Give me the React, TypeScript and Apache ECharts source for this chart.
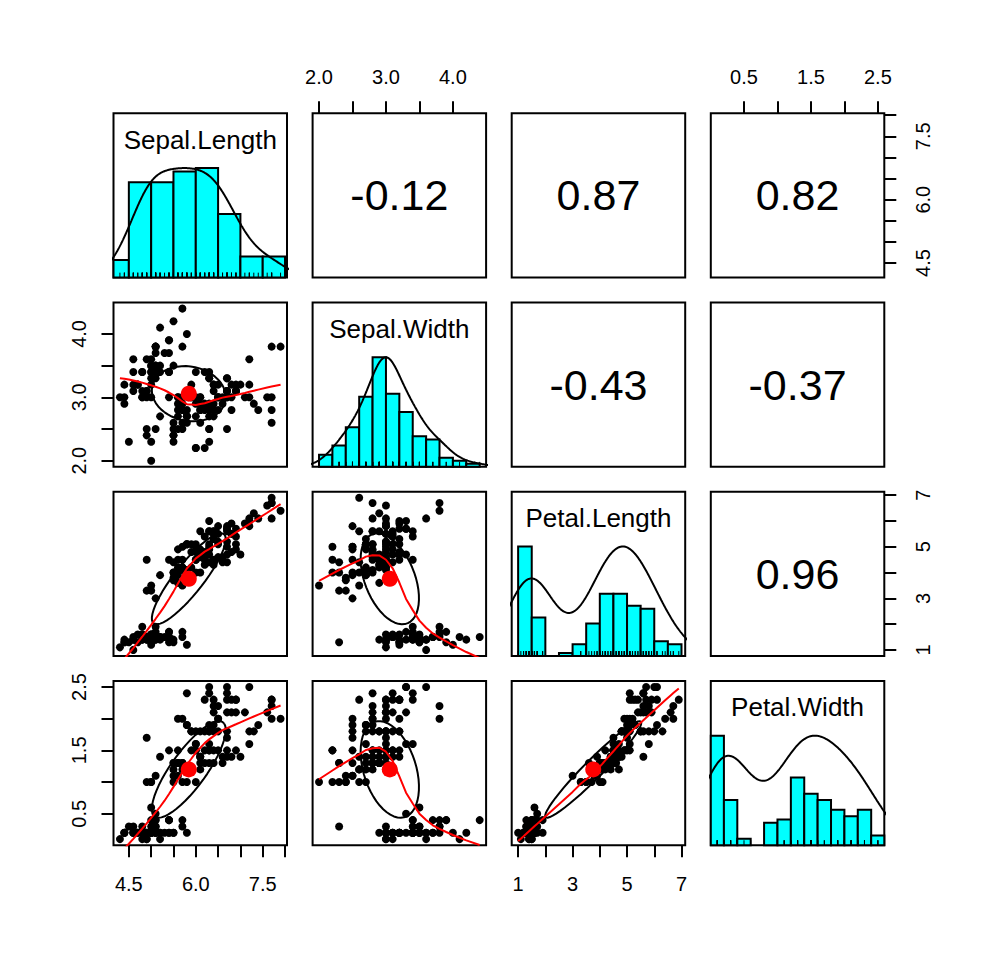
import React, { useEffect, useRef } from "react";
import * as echarts from "echarts";

// ---------------- data (iris) ----------------
const varNames = ["Sepal.Length", "Sepal.Width", "Petal.Length", "Petal.Width"];

const sepalLength = [
  5.1, 4.9, 4.7, 4.6, 5.0, 5.4, 4.6, 5.0, 4.4, 4.9, 5.4, 4.8, 4.8, 4.3, 5.8, 5.7, 5.4, 5.1, 5.7, 5.1, 5.4, 5.1, 4.6, 5.1, 4.8,
  5.0, 5.0, 5.2, 5.2, 4.7, 4.8, 5.4, 5.2, 5.5, 4.9, 5.0, 5.5, 4.9, 4.4, 5.1, 5.0, 4.5, 4.4, 5.0, 5.1, 4.8, 5.1, 4.6, 5.3, 5.0,
  7.0, 6.4, 6.9, 5.5, 6.5, 5.7, 6.3, 4.9, 6.6, 5.2, 5.0, 5.9, 6.0, 6.1, 5.6, 6.7, 5.6, 5.8, 6.2, 5.6, 5.9, 6.1, 6.3, 6.1, 6.4,
  6.6, 6.8, 6.7, 6.0, 5.7, 5.5, 5.5, 5.8, 6.0, 5.4, 6.0, 6.7, 6.3, 5.6, 5.5, 5.5, 6.1, 5.8, 5.0, 5.6, 5.7, 5.7, 6.2, 5.1, 5.7,
  6.3, 5.8, 7.1, 6.3, 6.5, 7.6, 4.9, 7.3, 6.7, 7.2, 6.5, 6.4, 6.8, 5.7, 5.8, 6.4, 6.5, 7.7, 7.7, 6.0, 6.9, 5.6, 7.7, 6.3, 6.7,
  7.2, 6.2, 6.1, 6.4, 7.2, 7.4, 7.9, 6.4, 6.3, 6.1, 7.7, 6.3, 6.4, 6.0, 6.9, 6.7, 6.9, 5.8, 6.8, 6.7, 6.7, 6.3, 6.5, 6.2, 5.9,
];
const sepalWidth = [
  3.5, 3.0, 3.2, 3.1, 3.6, 3.9, 3.4, 3.4, 2.9, 3.1, 3.7, 3.4, 3.0, 3.0, 4.0, 4.4, 3.9, 3.5, 3.8, 3.8, 3.4, 3.7, 3.6, 3.3, 3.4,
  3.0, 3.4, 3.5, 3.4, 3.2, 3.1, 3.4, 4.1, 4.2, 3.1, 3.2, 3.5, 3.6, 3.0, 3.4, 3.5, 2.3, 3.2, 3.5, 3.8, 3.0, 3.8, 3.2, 3.7, 3.3,
  3.2, 3.2, 3.1, 2.3, 2.8, 2.8, 3.3, 2.4, 2.9, 2.7, 2.0, 3.0, 2.2, 2.9, 2.9, 3.1, 3.0, 2.7, 2.2, 2.5, 3.2, 2.8, 2.5, 2.8, 2.9,
  3.0, 2.8, 3.0, 2.9, 2.6, 2.4, 2.4, 2.7, 2.7, 3.0, 3.4, 3.1, 2.3, 3.0, 2.5, 2.6, 3.0, 2.6, 2.3, 2.7, 3.0, 2.9, 2.9, 2.5, 2.8,
  3.3, 2.7, 3.0, 2.9, 3.0, 3.0, 2.5, 2.9, 2.5, 3.6, 3.2, 2.7, 3.0, 2.5, 2.8, 3.2, 3.0, 3.8, 2.6, 2.2, 3.2, 2.8, 2.8, 2.7, 3.3,
  3.2, 2.8, 3.0, 2.8, 3.0, 2.8, 3.8, 2.8, 2.8, 2.6, 3.0, 3.4, 3.1, 3.0, 3.1, 3.1, 3.1, 2.7, 3.2, 3.3, 3.0, 2.5, 3.0, 3.4, 3.0,
];
const petalLength = [
  1.4, 1.4, 1.3, 1.5, 1.4, 1.7, 1.4, 1.5, 1.4, 1.5, 1.5, 1.6, 1.4, 1.1, 1.2, 1.5, 1.3, 1.4, 1.7, 1.5, 1.7, 1.5, 1.0, 1.7, 1.9,
  1.6, 1.6, 1.5, 1.4, 1.6, 1.6, 1.5, 1.5, 1.4, 1.5, 1.2, 1.3, 1.4, 1.3, 1.5, 1.3, 1.3, 1.3, 1.6, 1.9, 1.4, 1.6, 1.4, 1.5, 1.4,
  4.7, 4.5, 4.9, 4.0, 4.6, 4.5, 4.7, 3.3, 4.6, 3.9, 3.5, 4.2, 4.0, 4.7, 3.6, 4.4, 4.5, 4.1, 4.5, 3.9, 4.8, 4.0, 4.9, 4.7, 4.3,
  4.4, 4.8, 5.0, 4.5, 3.5, 3.8, 3.7, 3.9, 5.1, 4.5, 4.5, 4.7, 4.4, 4.1, 4.0, 4.4, 4.6, 4.0, 3.3, 4.2, 4.2, 4.2, 4.3, 3.0, 4.1,
  6.0, 5.1, 5.9, 5.6, 5.8, 6.6, 4.5, 6.3, 5.8, 6.1, 5.1, 5.3, 5.5, 5.0, 5.1, 5.3, 5.5, 6.7, 6.9, 5.0, 5.7, 4.9, 6.7, 4.9, 5.7,
  6.0, 4.8, 4.9, 5.6, 5.8, 6.1, 6.4, 5.6, 5.1, 5.6, 6.1, 5.6, 5.5, 4.8, 5.4, 5.6, 5.1, 5.1, 5.9, 5.7, 5.2, 5.0, 5.2, 5.4, 5.1,
];
const petalWidth = [
  0.2, 0.2, 0.2, 0.2, 0.2, 0.4, 0.3, 0.2, 0.2, 0.1, 0.2, 0.2, 0.1, 0.1, 0.2, 0.4, 0.4, 0.3, 0.3, 0.3, 0.2, 0.4, 0.2, 0.5, 0.2,
  0.2, 0.4, 0.2, 0.2, 0.2, 0.2, 0.4, 0.1, 0.2, 0.2, 0.2, 0.2, 0.1, 0.2, 0.2, 0.3, 0.3, 0.2, 0.6, 0.4, 0.3, 0.2, 0.2, 0.2, 0.2,
  1.4, 1.5, 1.5, 1.3, 1.5, 1.3, 1.6, 1.0, 1.3, 1.4, 1.0, 1.5, 1.0, 1.4, 1.3, 1.4, 1.5, 1.0, 1.5, 1.1, 1.8, 1.3, 1.5, 1.2, 1.3,
  1.4, 1.4, 1.7, 1.5, 1.0, 1.1, 1.0, 1.2, 1.6, 1.5, 1.6, 1.5, 1.3, 1.3, 1.3, 1.2, 1.4, 1.2, 1.0, 1.3, 1.2, 1.3, 1.3, 1.1, 1.3,
  2.5, 1.9, 2.1, 1.8, 2.2, 2.1, 1.7, 1.8, 1.8, 2.5, 2.0, 1.9, 2.1, 2.0, 2.4, 2.3, 1.8, 2.2, 2.3, 1.5, 2.3, 2.0, 2.0, 1.8, 2.1,
  1.8, 1.8, 1.8, 2.1, 1.6, 1.9, 2.0, 2.2, 1.5, 1.4, 2.3, 2.4, 1.8, 1.8, 2.1, 2.4, 2.3, 1.9, 2.3, 2.5, 2.3, 1.9, 2.0, 2.3, 1.8,
];

const histBreaks = [
  [4.0, 4.5, 5.0, 5.5, 6.0, 6.5, 7.0, 7.5, 8.0],
  [2.0, 2.2, 2.4, 2.6, 2.8, 3.0, 3.2, 3.4, 3.6, 3.8, 4.0, 4.2, 4.4],
  [1.0, 1.5, 2.0, 2.5, 3.0, 3.5, 4.0, 4.5, 5.0, 5.5, 6.0, 6.5, 7.0],
  [0.0, 0.2, 0.4, 0.6, 0.8, 1.0, 1.2, 1.4, 1.6, 1.8, 2.0, 2.2, 2.4, 2.6],
];
const tickValues = [
  [4.5, 5.0, 5.5, 6.0, 6.5, 7.0, 7.5, 8.0],
  [2.0, 2.5, 3.0, 3.5, 4.0],
  [1, 2, 3, 4, 5, 6, 7],
  [0.5, 1.0, 1.5, 2.0, 2.5],
];
const tickLabels = [
  [4.5, 6.0, 7.5],
  [2.0, 3.0, 4.0],
  [1, 3, 5, 7],
  [0.5, 1.5, 2.5],
];
const labelDigits = [1, 1, 0, 1];

const columns = [sepalLength, sepalWidth, petalLength, petalWidth];

// ---------------- layout / style ----------------
const FONT = "'Liberation Sans', Arial, Helvetica, sans-serif";
const colLeft = [113.5, 312.6, 511.7, 710.8];
const rowTop = [113.3, 302.5, 491.7, 680.9];
const PW = 173.5;
const PH = 164.3;
const HIST_COL = "#00FFFF";
const SMOOTH_COL = "#FF0000";

// ---------------- statistics helpers ----------------
const mean = (v: number[]) => v.reduce((a, b) => a + b, 0) / v.length;
const sd = (v: number[]) => {
  const m = mean(v);
  return Math.sqrt(v.reduce((a, b) => a + (b - m) * (b - m), 0) / (v.length - 1));
};
const cor = (x: number[], y: number[]) => {
  const mx = mean(x), my = mean(y);
  let sxy = 0, sxx = 0, syy = 0;
  for (let i = 0; i < x.length; i++) {
    sxy += (x[i] - mx) * (y[i] - my);
    sxx += (x[i] - mx) ** 2;
    syy += (y[i] - my) ** 2;
  }
  return sxy / Math.sqrt(sxx * syy);
};
const extRange = (v: number[]) => {
  const lo = Math.min(...v), hi = Math.max(...v);
  const d = (hi - lo) * 0.04;
  return [lo - d, hi + d];
};

function histCounts(v: number[], br: number[]) {
  const counts = new Array(br.length - 1).fill(0);
  const eps = 1e-7 * (br[1] - br[0]);
  v.forEach((x) => {
    for (let k = 0; k < br.length - 1; k++) {
      if (x <= br[k + 1] + eps) {
        counts[k]++;
        break;
      }
    }
  });
  return counts;
}

function densityCurve(v: number[]) {
  const n = v.length;
  const s = [...v].sort((a, b) => a - b);
  const q = (p: number) => {
    const h = (n - 1) * p;
    const lo = Math.floor(h);
    return s[lo] + (h - lo) * (s[Math.min(lo + 1, n - 1)] - s[lo]);
  };
  const bw = 1.06 * Math.min(sd(v), (q(0.75) - q(0.25)) / 1.34) * Math.pow(n, -0.2) * 1.2;
  const from = s[0] - 3 * bw, to = s[n - 1] + 3 * bw;
  const pts: number[][] = [];
  let mx = 0;
  for (let k = 0; k < 512; k++) {
    const x = from + (k * (to - from)) / 511;
    let d = 0;
    for (let i = 0; i < n; i++) {
      const z = (x - v[i]) / bw;
      d += Math.exp(-0.5 * z * z);
    }
    pts.push([x, d]);
    if (d > mx) mx = d;
  }
  return pts.map((p) => [p[0], p[1] / mx]);
}

function lowess(xIn: number[], yIn: number[], f = 2 / 3, nsteps = 3) {
  const n = xIn.length;
  const idx = xIn.map((_, i) => i).sort((a, b) => xIn[a] - xIn[b] || a - b);
  const x = [0, ...idx.map((i) => xIn[i])];
  const y = [0, ...idx.map((i) => yIn[i])];
  const delta = 0.01 * (x[n] - x[1]);
  const ys = new Array(n + 1).fill(0);
  const rw = new Array(n + 1).fill(1);
  const res = new Array(n + 1).fill(0);
  const w = new Array(n + 1).fill(0);
  const ns = Math.max(2, Math.min(n, Math.floor(f * n + 1e-7)));
  const range = x[n] - x[1];
  const lowest = (xs: number, nleft: number, nright: number, userw: boolean): number | null => {
    const h = Math.max(xs - x[nleft], x[nright] - xs);
    const h9 = 0.999 * h, h1 = 0.001 * h;
    let a = 0;
    let j = nleft;
    while (j <= n) {
      w[j] = 0;
      const r = Math.abs(x[j] - xs);
      if (r <= h9) {
        if (r <= h1) w[j] = 1;
        else {
          const qq = r / h;
          const t = 1 - qq * qq * qq;
          w[j] = t * t * t;
        }
        if (userw) w[j] *= rw[j];
        a += w[j];
      } else if (x[j] > xs) break;
      j++;
    }
    const nrt = j - 1;
    if (a <= 0) return null;
    for (j = nleft; j <= nrt; j++) w[j] /= a;
    if (h > 0) {
      a = 0;
      for (j = nleft; j <= nrt; j++) a += w[j] * x[j];
      let b = xs - a;
      let c = 0;
      for (j = nleft; j <= nrt; j++) c += w[j] * (x[j] - a) * (x[j] - a);
      if (Math.sqrt(c) > 0.001 * range) {
        b /= c;
        for (j = nleft; j <= nrt; j++) w[j] *= b * (x[j] - a) + 1;
      }
    }
    let s = 0;
    for (j = nleft; j <= nrt; j++) s += w[j] * y[j];
    return s;
  };
  let iter = 1;
  while (iter <= nsteps + 1) {
    let nleft = 1, nright = ns, last = 0, i = 1;
    for (;;) {
      if (nright < n) {
        const d1 = x[i] - x[nleft];
        const d2 = x[nright + 1] - x[i];
        if (d1 > d2) {
          nleft++;
          nright++;
          continue;
        }
      }
      const v = lowest(x[i], nleft, nright, iter > 1);
      ys[i] = v === null ? y[i] : v;
      if (last < i - 1) {
        const denom = x[i] - x[last];
        for (let j = last + 1; j < i; j++) {
          const alpha = (x[j] - x[last]) / denom;
          ys[j] = alpha * ys[i] + (1 - alpha) * ys[last];
        }
      }
      last = i;
      const cut = x[last] + delta;
      for (i = last + 1; i <= n; i++) {
        if (x[i] > cut) break;
        if (x[i] === x[last]) {
          ys[i] = ys[last];
          last = i;
        }
      }
      i = Math.max(last + 1, i - 1);
      if (last >= n) break;
    }
    let sc = 0;
    for (let k = 1; k <= n; k++) {
      res[k] = y[k] - ys[k];
      sc += Math.abs(res[k]);
    }
    sc /= n;
    if (iter > nsteps) break;
    const ar = res.slice(1).map(Math.abs).sort((a, b) => a - b);
    const m1 = Math.floor(n / 2);
    let cmad: number;
    if (n % 2 === 0) {
      const m2 = n - m1 - 1;
      cmad = 3 * (ar[m1] + ar[m2]);
    } else cmad = 6 * ar[m1];
    if (cmad < 1e-7 * sc) break;
    const c9 = 0.999 * cmad, c1 = 0.001 * cmad;
    for (let k = 1; k <= n; k++) {
      const r = Math.abs(res[k]);
      if (r <= c1) rw[k] = 1;
      else if (r <= c9) {
        const u = r / cmad;
        rw[k] = (1 - u * u) * (1 - u * u);
      } else rw[k] = 0;
    }
    iter++;
  }
  return x.slice(1).map((xv, k) => [xv, ys[k + 1]]);
}

function ellipsePoints(xm: number, ym: number, xs: number, ys: number, r: number) {
  const seg = 51;
  const th = r !== 0 ? Math.sign(r) / Math.SQRT2 : 1 / Math.SQRT2;
  const a = Math.sqrt(1 + r), b = Math.sqrt(1 - r);
  const pts: number[][] = [];
  for (let k = 0; k <= seg; k++) {
    const ang = (k * 2 * Math.PI) / seg;
    const c = Math.cos(ang), s = Math.sin(ang);
    const ex = c * a * th - s * b * th;
    const ey = c * a * th + s * b * th;
    pts.push([ex * xs + xm, ey * ys + ym]);
  }
  return pts;
}

// ---------------- option ----------------
function textSeries(g: number, pt: number[], txt: string, size: number) {
  return {
    type: "scatter",
    xAxisIndex: g,
    yAxisIndex: g,
    silent: true,
    data: [pt],
    symbolSize: 1,
    itemStyle: { color: "rgba(0,0,0,0)", opacity: 1 },
    emphasis: { disabled: true },
    label: {
      show: true,
      position: "inside",
      formatter: txt,
      fontSize: size,
      fontFamily: FONT,
      color: "#000",
      opacity: 1,
      textBorderWidth: 0,
    },
  };
}

function buildOption() {
  const grids: any[] = [];
  const xAxes: any[] = [];
  const yAxes: any[] = [];
  const series: any[] = [];
  const ranges = columns.map(extRange);

  for (let r = 0; r < 4; r++) {
    for (let c = 0; c < 4; c++) {
      const g = r * 4 + c;
      grids.push({
        left: colLeft[c],
        top: rowTop[r],
        width: PW,
        height: PH,
        show: true,
        borderColor: "#000",
        borderWidth: 2,
        backgroundColor: "transparent",
        containLabel: false,
        outerBoundsMode: "none",
      });
      const hasTop = r === 0 && c % 2 === 1;
      const hasBottom = r === 3 && c % 2 === 0;
      const hasLeft = c === 0 && r % 2 === 1;
      const hasRight = c === 3 && r % 2 === 0;
      const showX = hasTop || hasBottom;
      const showY = hasLeft || hasRight;
      xAxes.push({
        gridIndex: g,
        type: "value",
        min: ranges[c][0],
        max: ranges[c][1],
        position: hasTop ? "top" : "bottom",
        axisLine: { show: false },
        splitLine: { show: false },
        axisTick: {
          show: showX,
          length: 12,
          lineStyle: { color: "#000", width: 2 },
          customValues: tickValues[c],
        },
        axisLabel: {
          show: showX,
          customValues: tickLabels[c],
          formatter: (v: number) => Number(v).toFixed(labelDigits[c]),
          fontSize: 20,
          fontFamily: FONT,
          color: "#000",
          margin: hasTop ? 26 : 29,
        },
      });
      const diag = r === c;
      yAxes.push({
        gridIndex: g,
        type: "value",
        min: diag ? 0 : ranges[r][0],
        max: diag ? 1.5 : ranges[r][1],
        position: hasRight ? "right" : "left",
        axisLine: { show: false },
        splitLine: { show: false },
        axisTick: {
          show: showY,
          length: 12,
          lineStyle: { color: "#000", width: 2 },
          customValues: tickValues[r],
        },
        axisLabel: {
          show: showY,
          customValues: tickLabels[r],
          formatter: (v: number) => Number(v).toFixed(labelDigits[r]),
          rotate: 90,
          fontSize: 20,
          fontFamily: FONT,
          color: "#000",
          margin: hasRight ? 29 : 25,
        },
      });

      const xs = columns[c];
      const ys = columns[r];
      if (diag) {
        const br = histBreaks[c];
        const counts = histCounts(xs, br);
        const mx = Math.max(...counts);
        const bins = counts
          .map((n, k) => [br[k], br[k + 1], n / mx])
          .filter((b) => b[2] > 0);
        series.push({
          type: "custom",
          xAxisIndex: g,
          yAxisIndex: g,
          silent: true,
          data: bins,
          encode: { x: [0, 1], y: 2 },
          renderItem: (params: any, api: any) => {
            const p0 = api.coord([api.value(0), 0]);
            const p1 = api.coord([api.value(1), api.value(2)]);
            const cs = params.coordSys;
            const shape = echarts.graphic.clipRectByRect(
              { x: p0[0], y: p1[1], width: p1[0] - p0[0], height: p0[1] - p1[1] },
              { x: cs.x, y: cs.y, width: cs.width, height: cs.height }
            );
            if (!shape) return null;
            return {
              type: "rect",
              shape,
              style: { fill: HIST_COL, stroke: "#000", lineWidth: 2 },
            };
          },
        });
        series.push({
          type: "line",
          xAxisIndex: g,
          yAxisIndex: g,
          silent: true,
          data: densityCurve(xs),
          showSymbol: false,
          symbol: "none",
          clip: true,
          lineStyle: { color: "#000", width: 2 },
        });
        series.push({
          type: "custom",
          xAxisIndex: g,
          yAxisIndex: g,
          silent: true,
          data: xs.map((v) => [v, 0]),
          encode: { x: 0, y: 1 },
          renderItem: (params: any, api: any) => {
            const p = api.coord([api.value(0), 0]);
            return {
              type: "line",
              shape: { x1: p[0], y1: p[1], x2: p[0], y2: p[1] - PH * 0.03 },
              style: { stroke: "#000", lineWidth: 1 },
            };
          },
        });
        series.push(textSeries(g, [(ranges[c][0] + ranges[c][1]) / 2, 1.26], varNames[c], 26));
      } else if (r > c) {
        const pts = xs.map((v, i) => [v, ys[i]]);
        const xm = mean(xs), ym = mean(ys);
        const rr = cor(xs, ys);
        series.push({
          type: "scatter",
          xAxisIndex: g,
          yAxisIndex: g,
          silent: true,
          data: pts,
          symbolSize: 8,
          itemStyle: { color: "#000", opacity: 1 },
        });
        series.push({
          type: "scatter",
          xAxisIndex: g,
          yAxisIndex: g,
          silent: true,
          data: [[xm, ym]],
          symbolSize: 16,
          itemStyle: { color: SMOOTH_COL, opacity: 1 },
        });
        series.push({
          type: "line",
          xAxisIndex: g,
          yAxisIndex: g,
          silent: true,
          data: ellipsePoints(xm, ym, sd(xs), sd(ys), rr),
          showSymbol: false,
          symbol: "none",
          clip: true,
          lineStyle: { color: "#000", width: 2 },
        });
        series.push({
          type: "line",
          xAxisIndex: g,
          yAxisIndex: g,
          silent: true,
          data: lowess(xs, ys),
          showSymbol: false,
          symbol: "none",
          clip: true,
          lineStyle: { color: SMOOTH_COL, width: 2 },
        });
      } else {
        const rr = cor(xs, ys);
        series.push(
          textSeries(
            g,
            [(ranges[c][0] + ranges[c][1]) / 2, (ranges[r][0] + ranges[r][1]) / 2],
            rr.toFixed(2),
            43
          )
        );
      }
    }
  }

  return {
    animation: false,
    backgroundColor: "#fff",
    grid: grids,
    xAxis: xAxes,
    yAxis: yAxes,
    series,
  };
}

export default function App() {
  const ref = useRef<HTMLDivElement>(null);
  useEffect(() => {
    if (!ref.current) return;
    const chart = echarts.init(ref.current, undefined, { renderer: "svg" });
    chart.setOption(buildOption() as any);
    return () => chart.dispose();
  }, []);
  return (
    <div
      ref={ref}
      style={{ position: "absolute", left: 0, top: 0, width: 998, height: 960, background: "#fff" }}
    />
  );
}
